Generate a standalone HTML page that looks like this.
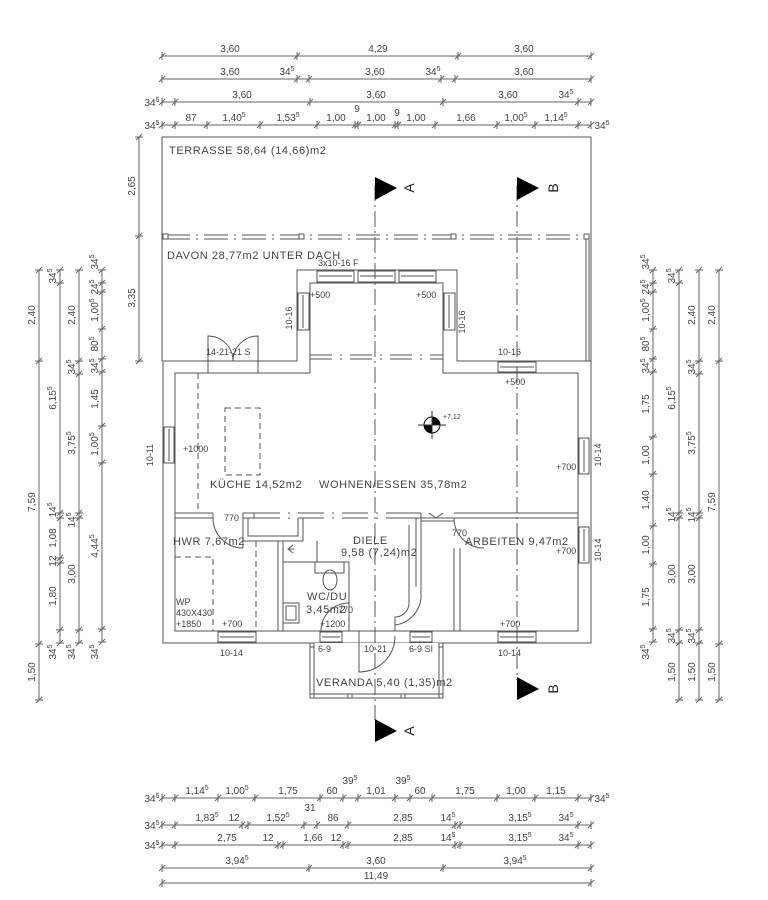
<!DOCTYPE html>
<html><head><meta charset="utf-8"><style>
html,body{margin:0;padding:0;background:#fff;width:768px;height:900px;overflow:hidden}
svg{display:block}
text{font-family:"Liberation Sans",sans-serif;fill:#444}
</style></head><body>
<svg id="s" width="768" height="900" viewBox="0 0 768 900" xmlns="http://www.w3.org/2000/svg">
<g id="plan" fill="none" stroke="#555" stroke-width="1">
<path d="M162,361 V137 H591 V361"/>
<g stroke-width="1">
<path d="M166,235 H584 M166,239 H584" stroke-dasharray="24,6,2,6"/>
<rect x="163" y="234" width="5" height="5" fill="#fff"/>
<rect x="299" y="234" width="5" height="5" fill="#fff"/>
<rect x="451" y="234" width="5" height="5" fill="#fff"/>
<rect x="584" y="234" width="5" height="5" fill="#fff"/>
<path d="M586,239 V361 M589,239 V361"/>
</g>
<path d="M163,361 H297 V270 H457 V361 H591 V643 H163 Z" fill="#fff"/>
<path d="M175,373 H310 V283 H443 V373 H578 V631 H175 Z"/>
<g fill="#fff">
<rect x="317" y="271" width="37" height="11"/><rect x="358" y="271" width="37" height="11"/><rect x="399" y="271" width="37" height="11"/>
<rect x="298" y="293" width="11" height="37"/><rect x="444" y="293" width="11" height="37"/>
<rect x="498" y="362" width="38" height="10"/>
<rect x="164" y="427" width="10" height="36"/>
<rect x="579" y="438" width="10" height="36"/>
<rect x="579" y="527" width="10" height="36"/>
<rect x="218" y="632" width="38" height="10"/>
<rect x="320" y="632" width="22" height="10"/>
<rect x="410" y="632" width="22" height="10"/>
<rect x="498" y="632" width="38" height="10"/>
</g>
<path d="M319,276 H352 M360,276 H393 M401,276 H434 M303,295 V328 M449,295 V328 M500,367 H534 M169,429 V461 M584,440 V472 M584,529 V561 M220,637 H254 M322,637 H340 M412,637 H430 M500,637 H534"/>
<path d="M208,361 H258 V373 H208 Z" fill="#fff"/>
<path d="M208,361 V336 A25,25 0 0 1 233,361 M258,361 V336 A25,25 0 0 0 233,361"/>
<path d="M310,355 H443 M310,359 H443" stroke-dasharray="22,8,2,8"/>
<path d="M198,373 V513" stroke-dasharray="6,4"/>
<rect x="225" y="408" width="35" height="67" stroke-dasharray="6,4"/>
<path d="M175,513 H213 M175,518 H213 M213,513 V518"/>
<path d="M243,513 H254 V518 H243 Z"/>
<path d="M254,513 H392 M254,518 H392" stroke-dasharray="26,8,2,8"/>
<path d="M392,513 H421 M392,518 H421 M454,513 H578 M454,518 H578 M421,513 V518"/>
<path d="M213,518 A30,30 0 0 0 243,548 M243,518 V548"/>
<path d="M454,518 A30,30 0 0 0 484,548"/>
<path d="M243,518 V541 H303 V518 M248,518 V536 H298 V518"/>
<path d="M278,541 V631 M283,541 V631"/>
<path d="M256,541 V631" stroke-dasharray="6,4"/>
<rect x="175" y="557" width="38" height="74" stroke-dasharray="6,4"/>
<path d="M283,562 H349 V631 M317,541 V562 M349,562 V631"/>
<path d="M315,562 V573 H344 V562"/>
<ellipse cx="330" cy="580" rx="7" ry="10"/>
<rect x="283" y="603" width="16" height="20"/><rect x="286" y="606" width="10" height="14"/>
<path d="M293,545 l-5,4 l5,4 M288,549 h6"/>
<path d="M349,603 A28,28 0 0 0 321,631"/>
<path d="M416,518 V587 M409,525 V603 A14,14 0 0 1 395,617 V631 M421,518 V598 A30,30 0 0 1 395,625"/>
<path d="M421,518 H454 M421,521 H454 M429,513 L436,518 L443,513"/>
<path d="M454,548 V631 M460,548 V631"/>
<path d="M310,643 V698 H443 V643 M314,643 V694 H439 V643" fill="#fff"/>
<rect x="310" y="694" width="4" height="4"/><rect x="439" y="694" width="4" height="4"/><rect x="348" y="694" width="4" height="4"/><rect x="401" y="694" width="4" height="4"/>
<rect x="310" y="643" width="4" height="4"/><rect x="439" y="643" width="4" height="4"/>
<path d="M359,631 V672 A36,36 0 0 0 395,636 M359,631 H395" />
<path d="M375,185 V720 M517,185 V680" stroke-dasharray="16,4,2,4"/>
</g>
<g fill="#000">
<path d="M375,177 V200 L397,188 Z"/><path d="M517,177 V200 L539,188 Z"/>
<path d="M375,719 V742 L397,731 Z"/><path d="M517,677 V700 L539,689 Z"/>
<circle cx="432" cy="425" r="8" fill="#fff" stroke="#000"/>
<path d="M432,417 A8,8 0 0 1 440,425 H432 Z M432,425 V433 A8,8 0 0 1 424,425 Z"/>
</g>
<path d="M418,425 H446 M432,411 V439" stroke="#333"/>
<g font-size="14">
<text transform="translate(414,188) rotate(-90)" text-anchor="middle" style="fill:#222">A</text>
<text transform="translate(558,188) rotate(-90)" text-anchor="middle" style="fill:#222">B</text>
<text transform="translate(414,731) rotate(-90)" text-anchor="middle" style="fill:#222">A</text>
<text transform="translate(558,689) rotate(-90)" text-anchor="middle" style="fill:#222">B</text>
</g>
<g font-size="11" letter-spacing="0.6">
<text x="169" y="154">TERRASSE 58,64 (14,66)m2</text>
<text x="167" y="259">DAVON 28,77m2 UNTER DACH</text>
<text x="210" y="488">KÜCHE 14,52m2</text>
<text x="319" y="488">WOHNEN/ESSEN 35,78m2</text>
<text x="173" y="545">HWR 7,67m2</text>
<text x="353" y="544">DIELE</text>
<text x="341" y="556">9,58 (7,24)m2</text>
<text x="465" y="545">ARBEITEN 9,47m2</text>
<text x="307" y="600">WC/DU</text>
<text x="306" y="613">3,45m2</text>
<text x="316" y="686">VERANDA 5,40 (1,35)m2</text>
</g>
<g font-size="9">
<text x="318" y="266">3x10-16 F</text>
<text x="310" y="298">+500</text><text x="416" y="298">+500</text>
<text transform="translate(292,318) rotate(-90)" text-anchor="middle">10-16</text>
<text transform="translate(465,322) rotate(-90)" text-anchor="middle">10-16</text>
<text x="206" y="355">14-21-21 S</text>
<text x="498" y="355">10-16</text><text x="505" y="385">+500</text>
<text x="443" y="419" font-size="7">+7,12</text>
<text transform="translate(153,455) rotate(-90)" text-anchor="middle">10-11</text>
<text transform="translate(601,455) rotate(-90)" text-anchor="middle">10-14</text>
<text transform="translate(601,550) rotate(-90)" text-anchor="middle">10-14</text>
<text x="183" y="452">+1000</text>
<text x="556" y="470">+700</text><text x="556" y="554">+700</text>
<text x="224" y="521">770</text>
<text x="452" y="536">770</text>
<text x="176" y="605">WP</text><text x="176" y="616">430X430</text><text x="176" y="627">+1850</text>
<text x="222" y="627">+700</text>
<text x="338" y="613">770</text>
<text x="320" y="627">+1200</text>
<text x="500" y="627">+700</text>
<text x="220" y="656">10-14</text><text x="318" y="652">6-9</text><text x="364" y="652">10-21</text>
<text x="409" y="652">6-9 SI</text><text x="498" y="656">10-14</text>
</g>
<g id="dims" stroke="#666" fill="none"></g>
<g id="dimt" font-size="10"></g>
</svg>
<script>
var NS="http://www.w3.org/2000/svg",D=document.getElementById("dims"),T=document.getElementById("dimt");
function ln(a,b,c,d){var l=document.createElementNS(NS,"line");l.setAttribute("x1",a);l.setAttribute("y1",b);l.setAttribute("x2",c);l.setAttribute("y2",d);D.appendChild(l);}
function tx(x,y,s,rot){var t=document.createElementNS(NS,"text");var p=s.split("^");t.textContent=p[0];
if(p[1]){var sp=document.createElementNS(NS,"tspan");sp.setAttribute("font-size","7");sp.setAttribute("dy","-4");sp.textContent=p[1];t.appendChild(sp);}
t.setAttribute("text-anchor","middle");
if(rot)t.setAttribute("transform","translate("+x+","+y+") rotate(-90)");else{t.setAttribute("x",x);t.setAttribute("y",y);}
T.appendChild(t);}
function h(y,tk,lb){ln(tk[0],y,tk[tk.length-1],y);tk.forEach(function(x){ln(x,y-4,x,y+4);ln(x-3,y+3,x+3,y-3);});lb.forEach(function(l){tx(l[0],l[2]||y-4,l[1]);});}
function v(x,tk,lb){ln(x,tk[0],x,tk[tk.length-1]);tk.forEach(function(y){ln(x-4,y,x+4,y);ln(x-3,y+3,x+3,y-3);});lb.forEach(function(l){tx(x-4,l[0],l[1],1);});}
h(56,[162,297,458,591],[[230,"3,60"],[378,"4,29"],[524,"3,60"]]);
h(79,[162,297,309,441,455,591],[[230,"3,60"],[287,"34^5"],[375,"3,60"],[433,"34^5"],[524,"3,60"]]);
h(102,[162,175,310,443,578,591],[[152,"34^5",106],[242,"3,60"],[376,"3,60"],[508,"3,60"],[566,"34^5"],[357,"9",112],[397,"9",116]]);
h(125,[162,175,207,260,317,355,358,395,398,435,497,535,578,591],[[152,"34^5",129],[191,"87"],[234,"1,40^5"],[288,"1,53^5"],[336,"1,00"],[376,"1,00"],[416,"1,00"],[466,"1,66"],[516,"1,00^5"],[556,"1,14^5"],[602,"34^5",129]]);
h(798,[162,175,218,255,320,343,358,395,410,432,497,535,578,591],[[152,"34^5",802],[197,"1,14^5"],[237,"1,00^5"],[288,"1,75"],[332,"60"],[376,"1,01"],[420,"60"],[465,"1,75"],[516,"1,00"],[556,"1,15"],[602,"34^5",802],[350,"39^5",784],[403,"39^5",784]]);
h(825,[162,175,242,248,304,317,348,455,460,578,591],[[152,"34^5",829],[207,"1,83^5"],[234,"12"],[278,"1,52^5"],[310,"31",811],[333,"86"],[403,"2,85"],[448,"14^5"],[520,"3,15^5"],[566,"34^5"]]);
h(845,[162,175,278,283,343,348,455,460,578,591],[[152,"34^5",849],[227,"2,75"],[268,"12"],[313,"1,66"],[336,"12"],[403,"2,85"],[448,"14^5"],[520,"3,15^5"],[566,"34^5"]]);
h(868,[162,309,443,591],[[237,"3,94^5"],[376,"3,60"],[515,"3,94^5"]]);
h(883,[162,591],[[376,"11,49"]]);
v(39,[270,361,644,700],[[315,"2,40"],[502,"7,59"],[672,"1,50"]]);
v(60,[270,283,513,518,558,563,630,643],[[276,"34^5"],[398,"6,15^5"],[510,"14^5"],[538,"1,08"],[561,"12"],[596,"1,80"],[652,"34^5"]]);
v(79,[270,361,374,513,518,630,643],[[315,"2,40"],[367,"34^5"],[443,"3,75^5"],[520,"14^5"],[574,"3,00"],[652,"34^5"]]);
v(102,[270,283,292,329,359,372,426,463,629,642],[[262,"34^5"],[287,"24^5"],[310,"1,00^5"],[344,"80^5"],[366,"34^5"],[399,"1,45"],[444,"1,00^5"],[546,"4,44^5"],[652,"34^5"]]);
v(139,[137,236,361],[[186,"2,65"],[298,"3,35"]]);
v(653,[270,283,292,329,359,372,437,474,526,564,629,642],[[262,"34^5"],[287,"24^5"],[310,"1,00^5"],[344,"80^5"],[366,"34^5"],[404,"1,75"],[455,"1,00"],[500,"1,40"],[545,"1,00"],[597,"1,75"],[652,"34^5"]]);
v(679,[270,283,513,518,630,643,700],[[276,"34^5"],[398,"6,15^5"],[515,"14^5"],[574,"3,00"],[636,"34^5"],[672,"1,50"]]);
v(699,[270,361,374,513,518,630,643,700],[[315,"2,40"],[367,"34^5"],[443,"3,75^5"],[515,"14^5"],[574,"3,00"],[636,"34^5"],[672,"1,50"]]);
v(719,[270,361,644,700],[[315,"2,40"],[502,"7,59"],[672,"1,50"]]);
</script>
</body></html>
